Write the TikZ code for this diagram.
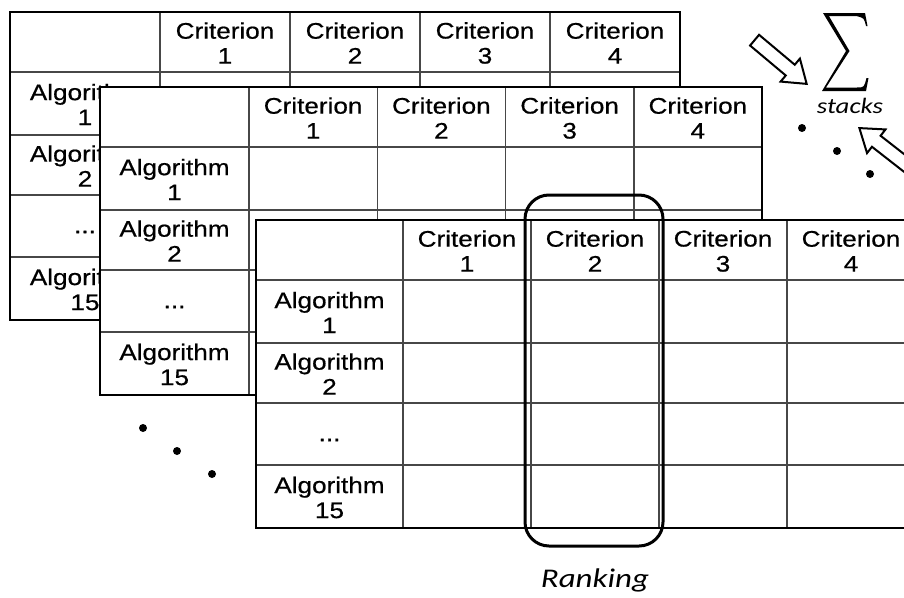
\documentclass[tikz,border=0pt]{standalone}
\usepackage{fontspec}
\usetikzlibrary{shapes.arrows}
\newfontfamily\tabfont{Liberation Sans}[FakeStretch=1.16,FakeBold=0.6]
\newfontfamily\notefont{Carlito}[FakeStretch=1.22]

\tikzset{
  grid line/.style={line width=1.5pt, draw=black!72},
  frame line/.style={line width=2pt, draw=black},
  cell/.style={font=\tabfont\fontsize{22.5}{25}\selectfont, align=center, inner sep=0pt, text=black},
  hollow arrow/.style={shape=single arrow, draw=black, fill=white, line width=2pt,
    inner xsep=0pt, inner ysep=6pt, single arrow head extend=8pt,
    single arrow tip angle=70, minimum height=#1},
  dot/.style={circle, fill=black, inner sep=0pt, minimum size=8pt},
  rank box/.style={draw=black, line width=3pt, rounded corners=24pt, inner sep=0pt},
}

% One criterion table: #1 name, #2/#3 top-left corner, #4 first column width, #5 other column width
\newcommand\critable[5]{%
  \begin{scope}[shift={(#2,#3)}]
    \fill[white] (0,0) rectangle (#4+4*#5,308);
    \foreach \ry in {60,123,183,245}
      \draw[grid line] (0,\ry) -- (#4+4*#5,\ry);
    \foreach \i in {0,1,2,3}
      \draw[grid line] (#4+\i*#5,0) -- (#4+\i*#5,308);
    \draw[frame line] (0,0) rectangle (#4+4*#5,308);
    \foreach \i in {1,2,3,4}
      \node[cell] (#1-c\i) at (#4+\i*#5-0.5*#5,31) {Criterion\\\i};
    \node[cell] (#1-a1) at (0.5*#4,92.5) {Algorithm\\1};
    \node[cell] (#1-a2) at (0.5*#4,154) {Algorithm\\2};
    \node[cell] (#1-ad) at (0.5*#4,220) {...};
    \node[cell] (#1-a15) at (0.5*#4,277.5) {Algorithm\\15};
  \end{scope}}

\begin{document}
\begin{tikzpicture}[x=1pt,y=-1pt]
  \clip (0,0) rectangle (904,597);
  \fill[white] (0,0) rectangle (904,597);

  % three stacked tables, back to front
  \critable{ta}{10}{12}{150}{130}
  \critable{tb}{100}{87}{149}{128.25}
  \critable{tc}{256}{220}{147}{128}

  % highlighted column and its caption
  \node[rank box, minimum width=138pt, minimum height=351pt] (rank) at (594,370.5) {};
  \node[font=\notefont\itshape\fontsize{27}{30}\selectfont, inner sep=0pt] (ranklabel) at (595,580) {Ranking};

  % large summation sign over the stacks
  \fill[black] (823,13) -- (865,13) -- (867.5,26) -- (866,26)
    .. controls (864,18) .. (857,16.2) -- (829,16.2) -- (849.5,51)
    -- (826,87.5) -- (857,87.5) .. controls (864,87.5) .. (866.5,78)
    -- (868.5,78) -- (866,91) -- (822,91) -- (846,51) -- cycle;
  \node[font=\notefont\itshape\fontsize{22}{24}\selectfont, inner sep=0pt] (stk) at (850,106) {stacks};

  % hollow arrows pointing at the sum
  \node[hollow arrow=68pt, rotate=-40, anchor=tip] (arrowa) at (808,85) {};
  \node[hollow arrow=90pt, rotate=142, anchor=tip] (arrowb) at (858,127) {};

  % ellipsis dots
  \node[dot] (ra) at (802,128) {};
  \node[dot] (rb) at (837,151) {};
  \node[dot] (rc) at (870,174) {};
  \node[dot] (la) at (143,428) {};
  \node[dot] (lb) at (177,451) {};
  \node[dot] (lc) at (212,474) {};
\end{tikzpicture}
\end{document}
